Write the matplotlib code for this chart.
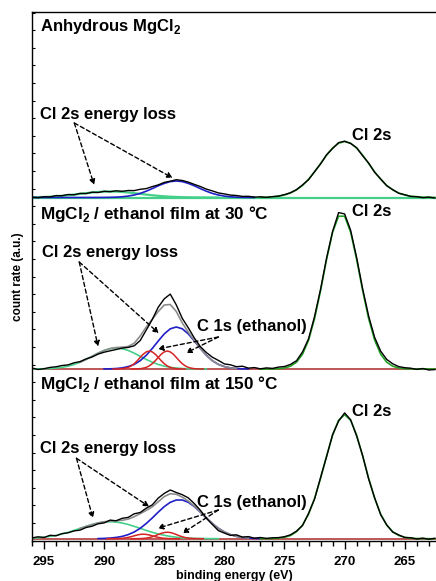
import numpy as np
import matplotlib
matplotlib.use("Agg")
import matplotlib.pyplot as plt
from matplotlib.ticker import MultipleLocator

plt.rcParams['font.family'] = ['Liberation Sans', 'DejaVu Sans']
plt.rcParams['font.weight'] = 'bold'
plt.rcParams['axes.labelweight'] = 'bold'
plt.rcParams['mathtext.fontset'] = 'custom'
plt.rcParams['mathtext.rm'] = 'Liberation Sans:bold'
plt.rcParams['mathtext.bf'] = 'Liberation Sans:bold'

# =====================================================
# DATA  (binding energy in eV, count rate in a.u.)
# =====================================================

def grid(start, n, step=0.5):
    return start - step * np.arange(n)

energy = grid(296.0, 68)           # 296.0 ... 262.5
cl_energy = grid(277.0, 30)        # 277.0 ... 262.5

# --- anhydrous MgCl2 ---
anhydrous_data = [
    0.3, -0.2, 0.8, 0.6, 1.9, 1.8, 3.0, 2.7, 4.1, 3.9,
    5.3, 5.0, 6.2, 5.8, 6.7, 6.2, 7.0, 6.9, 8.2, 8.9,
    10.9, 12.6, 15.1, 16.3, 17.8, 17.0, 15.4, 13.1, 11.0, 8.4,
    6.6, 4.6, 3.6, 2.4, 2.0, 1.1, 1.2, 0.4, 0.7, 0.1,
    0.9, 1.4, 2.9, 4.8, 7.9, 12.6, 17.8, 25.9, 33.5, 42.8,
    49.0, 54.9, 56.3, 54.0, 49.8, 41.7, 34.4, 25.1, 18.6, 11.7,
    7.9, 4.2, 2.8, 1.0, 0.9, -0.2, 0.4, -0.5]
anhydrous_loss = [
    0.20, 0.34, 0.53, 0.81, 1.19, 1.67, 2.25, 2.92, 3.64, 4.36,
    5.01, 5.54, 5.88, 6.0, 5.88, 5.54, 5.01, 4.36, 3.64, 2.92,
    2.25, 1.67, 1.19, 0.81, 0.53, 0.34, 0.20, 0.12, 0.07, 0.03,
    0.02, 0.01]
anhydrous_blue = [
    0, 0, 0, 0, 0, 0, 0, 0, 0, 0, 0,
    0.02, 0.06, 0.16, 0.35, 0.72, 1.4, 2.5, 4.1, 6.3, 8.9,
    11.7, 14.1, 15.9, 16.5, 15.9, 14.1, 11.7, 8.9, 6.3, 4.1,
    2.5, 1.4, 0.72, 0.35, 0.16, 0.06, 0.02]
anhydrous_cl2s = [
    0.1, 0.3, 0.6, 1.3, 2.5, 4.5, 7.6, 12.1, 18.2, 25.6,
    34.0, 42.3, 49.4, 54.3, 56.0, 54.3, 49.4, 42.3, 34.0, 25.6,
    18.2, 12.1, 7.6, 4.5, 2.5, 1.3, 0.6, 0.3, 0.1, 0.0]

# --- MgCl2 / ethanol film at 30 C ---
film30_data = [
    1.0, -0.5, 0.3, 1.6, 2.2, 3.5, 4.1, 6.2, 7.4, 10.1,
    12.0, 14.9, 16.8, 18.2, 19.5, 20.9, 21.6, 23.2, 28.5, 38.9,
    49.5, 61.8, 70.2, 74.9, 64.1, 50.6, 41.2, 31.0, 22.4, 16.5,
    11.8, 8.6, 5.1, 4.2, 2.3, 2.8, 0.9, 1.4, 0.2, 1.1,
    0.6, 1.9, 2.5, 4.6, 8.3, 17.1, 30.2, 52.6, 79.8, 111.0,
    137.5, 156.4, 155.1, 138.8, 111.4, 80.2, 52.9, 31.5, 17.8, 9.6,
    5.2, 2.4, 1.3, 0.8, -0.4, 0.5, -1.0, -0.6]
film30_loss = [
    0.05, 0.11, 0.23, 0.48, 0.92, 1.67, 2.84, 4.54, 6.82, 9.61,
    12.74, 15.85, 18.53, 20.35, 21.0, 20.35, 18.53, 15.85, 12.74, 9.61,
    6.82, 4.54, 2.84, 1.67, 0.92, 0.48, 0.23, 0.11, 0.05, 0.02]
film30_blue = [
    0.06, 0.18, 0.47, 1.1, 2.4, 4.6, 8.3, 13.7, 20.5, 28.0,
    35.1, 40.2, 42.0, 40.2, 35.1, 28.0, 20.5, 13.7, 8.3, 4.6,
    2.4, 1.1, 0.47, 0.18, 0.06]
film30_c1s = [
    0.02, 0.05, 0.14, 0.35, 0.8, 1.6, 3.1, 5.3, 8.2, 11.6,
    14.8, 17.1, 18.0, 17.1, 14.8, 11.6, 8.2, 5.3, 3.1, 1.6,
    0.8, 0.35, 0.14, 0.05, 0.02]
film30_envelope = [
    6.8, 9.6, 12.7, 15.9, 18.6, 20.5, 21.5, 21.8, 22.5, 25.8,
    33.0, 42.0, 49.7, 57.5, 64.0, 64.5, 57.5, 46.0, 36.9, 28.5,
    20.6, 13.7, 8.3, 4.6, 2.4, 1.1, 0.5]
film30_cl2s = [
    0.0, 0.02, 0.1, 0.34, 1.0, 2.8, 6.8, 14.8, 28.8, 50.3,
    78.4, 109.6, 136.8, 152.8, 152.8, 136.8, 109.6, 78.4, 50.3, 28.8,
    14.8, 6.8, 2.8, 1.0, 0.34, 0.1, 0.02, 0.0, 0.0, 0.0]

# --- MgCl2 / ethanol film at 150 C ---
film150_data = [
    0.8, 1.9, 1.2, 3.4, 2.9, 5.1, 5.9, 7.8, 8.6, 11.2,
    12.5, 14.9, 15.8, 18.6, 17.9, 20.4, 21.3, 24.9, 26.2, 30.5,
    33.8, 40.6, 45.3, 48.7, 46.2, 44.0, 40.8, 35.1, 28.5, 20.6,
    14.2, 8.1, 5.6, 3.3, 3.9, 1.6, 2.1, 0.5, 1.2, 0.3,
    0.9, 1.1, 2.0, 3.9, 7.6, 13.2, 25.3, 39.6, 61.2, 82.0,
    104.1, 117.6, 125.8, 118.9, 102.7, 83.1, 59.6, 40.8, 23.9, 13.8,
    6.6, 3.8, 1.2, 1.0, -0.3, 0.6, -0.5, 0.4]
film150_loss = [
    0.58, 0.95, 1.51, 2.30, 3.37, 4.73, 6.38, 8.28, 10.32, 12.34,
    14.2, 15.69, 16.66, 17.0, 16.66, 15.69, 14.2, 12.34, 10.32, 8.28,
    6.38, 4.73, 3.37, 2.30, 1.51, 0.95, 0.58, 0.34, 0.19, 0.10,
    0.05, 0.02]
film150_blue = [
    0.14, 0.3, 0.63, 1.26, 2.3, 4.1, 6.7, 10.4, 15.2, 20.7,
    26.6, 32.1, 36.4, 38.7, 38.7, 36.4, 32.1, 26.6, 20.7, 15.2,
    10.4, 6.7, 4.1, 2.3, 1.26, 0.63, 0.3, 0.14]
film150_c1s_a = [
    0.01, 0.01, 0.04, 0.09, 0.2, 0.4, 0.78, 1.33, 2.05, 2.9,
    3.7, 4.28, 4.5, 4.28, 3.7, 2.9, 2.05, 1.33, 0.78, 0.4,
    0.2, 0.09, 0.04, 0.01, 0.01]
film150_c1s_b = [
    0.01, 0.02, 0.05, 0.13, 0.29, 0.58, 1.12, 1.91, 2.96, 4.19,
    5.34, 6.18, 6.5, 6.18, 5.34, 4.19, 2.96, 1.91, 1.12, 0.58,
    0.29, 0.13, 0.05, 0.02, 0.01]
film150_envelope = [
    10.3, 12.3, 14.2, 15.8, 17.0, 17.6, 18.0, 18.4, 19.6, 22.0,
    25.1, 28.3, 31.9, 36.9, 42.1, 45.0, 44.4, 41.6, 37.6, 32.6,
    26.8, 20.8, 15.2, 10.4, 6.7, 4.1, 2.3, 1.3, 0.6]
film150_cl2s = [
    0.0, 0.05, 0.2, 0.5, 1.4, 3.2, 7.0, 13.6, 24.6, 40.3,
    60.4, 82.7, 103.5, 118.5, 124.0, 118.5, 103.5, 82.7, 60.4, 40.3,
    24.6, 13.6, 7.0, 3.2, 1.4, 0.5, 0.2, 0.05, 0.0, 0.0]

# vertical offsets of the three stacked spectra
off1, off2, off3 = 343.0, 171.5, 1.8

# =====================================================
# COLOURS
# =====================================================

c_data = 'black'
c_fit = '#8c8c8c'
c_loss = '#45d08a'
c_cl = '#24a024'
c_blue = '#1f1fc8'
c_red = '#d42424'
c_base = '#b23a3a'

# =====================================================
# FIGURE
# =====================================================

fig = plt.figure(figsize=(4.36, 5.81), dpi=100)
ax = fig.add_axes([32 / 436, 1 - 540.5 / 581, 404 / 436, 528.5 / 581])
lw = 1.0

# panel 1 : anhydrous
ax.axhline(off1, color=c_loss, lw=1.6, zorder=1)
ax.plot(grid(296.0, 32), np.array(anhydrous_loss) + off1, color=c_loss, lw=1.6, zorder=2)
ax.plot(grid(296.0, 38), np.array(anhydrous_blue) + off1, color=c_blue, lw=1.2, zorder=2)
ax.plot(cl_energy, np.array(anhydrous_cl2s) + off1, color=c_cl, lw=1.2, zorder=2)
ax.plot(energy, np.array(anhydrous_data) + off1, color=c_data, lw=lw, zorder=4)

# panel 2 : 30 C
ax.axhline(off2, color=c_base, lw=1.2, zorder=1)
ax.plot(grid(296.0, 30), np.array(film30_loss) + off2, color=c_loss, lw=1.2, zorder=2)
ax.plot(grid(290.0, 25), np.array(film30_blue) + off2, color=c_blue, lw=1.2, zorder=2)
ax.plot(grid(289.25, 25, 0.25), np.array(film30_c1s) + off2, color=c_red, lw=1.1, zorder=2)
ax.plot(grid(287.75, 25, 0.25), np.array(film30_c1s) + off2, color=c_red, lw=1.1, zorder=2)
ax.plot(grid(292.0, 27), np.array(film30_envelope) + off2, color=c_fit, lw=1.2, zorder=3)
ax.plot(cl_energy, np.array(film30_cl2s) + off2, color=c_cl, lw=1.2, zorder=3)
ax.plot(energy, np.array(film30_data) + off2, color=c_data, lw=lw, zorder=4)

# panel 3 : 150 C
ax.axhline(off3, color=c_base, lw=1.2, zorder=1)
ax.plot(grid(296.0, 32), np.array(film150_loss) + off3, color=c_loss, lw=1.2, zorder=2)
ax.plot(grid(290.5, 28), np.array(film150_blue) + off3, color=c_blue, lw=1.2, zorder=2)
ax.plot(grid(289.75, 25, 0.25), np.array(film150_c1s_a) + off3, color=c_red, lw=1.1, zorder=2)
ax.plot(grid(287.75, 25, 0.25), np.array(film150_c1s_b) + off3, color=c_red, lw=1.1, zorder=2)
ax.plot(grid(292.0, 29), np.array(film150_envelope) + off3, color=c_fit, lw=1.2, zorder=3)
ax.plot(cl_energy, np.array(film150_cl2s) + off3, color=c_cl, lw=1.2, zorder=3)
ax.plot(energy, np.array(film150_data) + off3, color=c_data, lw=lw, zorder=4)

# =====================================================
# LABELS AND ARROWS
# =====================================================

fs = 12
ax.text(295.37, 509, r"Anhydrous MgCl$_2$", fontsize=fs, va='baseline')
ax.text(295.37, 421.5, "Cl 2s energy loss", fontsize=fs, va='baseline')
ax.text(269.35, 401, "Cl 2s", fontsize=fs, va='baseline')

ax.text(295.37, 322, r"MgCl$_2$ / ethanol film at 30 °C", fontsize=12.3, va='baseline')
ax.text(295.2, 283, "Cl 2s energy loss", fontsize=fs, va='baseline')
ax.text(269.35, 324.5, "Cl 2s", fontsize=fs, va='baseline')
ax.text(282.25, 209, "C 1s (ethanol)", fontsize=fs, va='baseline')

ax.text(295.37, 152, r"MgCl$_2$ / ethanol film at 150 °C", fontsize=12.3, va='baseline')
ax.text(295.37, 87, "Cl 2s energy loss", fontsize=fs, va='baseline')
ax.text(269.35, 124.5, "Cl 2s", fontsize=fs, va='baseline')
ax.text(282.25, 33, "C 1s (ethanol)", fontsize=fs, va='baseline')

arrows = [
    ((292.48, 417.5), (290.83, 355.5)),
    ((292.48, 417.5), (284.3, 362.5)),
    ((292.07, 278.5), (290.5, 193.8)),
    ((292.07, 278.5), (285.45, 207.2)),
    ((280.5, 203.5), (285.54, 191.5)),
    ((280.5, 203.5), (283.2, 187.5)),
    ((292.3, 82.2), (290.93, 22.2)),
    ((292.3, 82.2), (286.25, 33.8)),
    ((280.5, 30.5), (285.56, 12.2)),
    ((280.5, 30.5), (283.5, 7.2)),
]
for start, end in arrows:
    ax.annotate("", xy=end, xytext=start,
                arrowprops=dict(arrowstyle='-|>', linestyle=(0, (3, 2)), lw=1.0,
                                color='black', shrinkA=0, shrinkB=0,
                                mutation_scale=8), zorder=5)

# =====================================================
# AXES
# =====================================================

ax.set_xlim(296.0, 262.4)
ax.set_ylim(0, 528.5)
ax.spines['right'].set_visible(False)
for s in ['left', 'top', 'bottom']:
    ax.spines[s].set_linewidth(1.0)

ax.xaxis.set_major_locator(MultipleLocator(5))
ax.xaxis.set_minor_locator(MultipleLocator(1))
ax.tick_params(axis='x', which='major', direction='out', length=5.5, width=1.0,
               labelsize=9.5, pad=5.5)
ax.tick_params(axis='x', which='minor', direction='out', length=3.5, width=1.0)
ax.yaxis.set_major_locator(MultipleLocator(17.6))
ax.tick_params(axis='y', which='major', direction='in', length=2.5, width=0.8,
               labelleft=False)
for lab in ax.get_xticklabels():
    lab.set_fontweight('bold')

ax.set_xlabel("binding energy (eV)", fontsize=9, fontweight='bold', labelpad=1.5)
ax.set_ylabel("count rate (a.u.)", fontsize=8.5, fontweight='bold', labelpad=6)

fig.savefig("out.png", dpi=100)
